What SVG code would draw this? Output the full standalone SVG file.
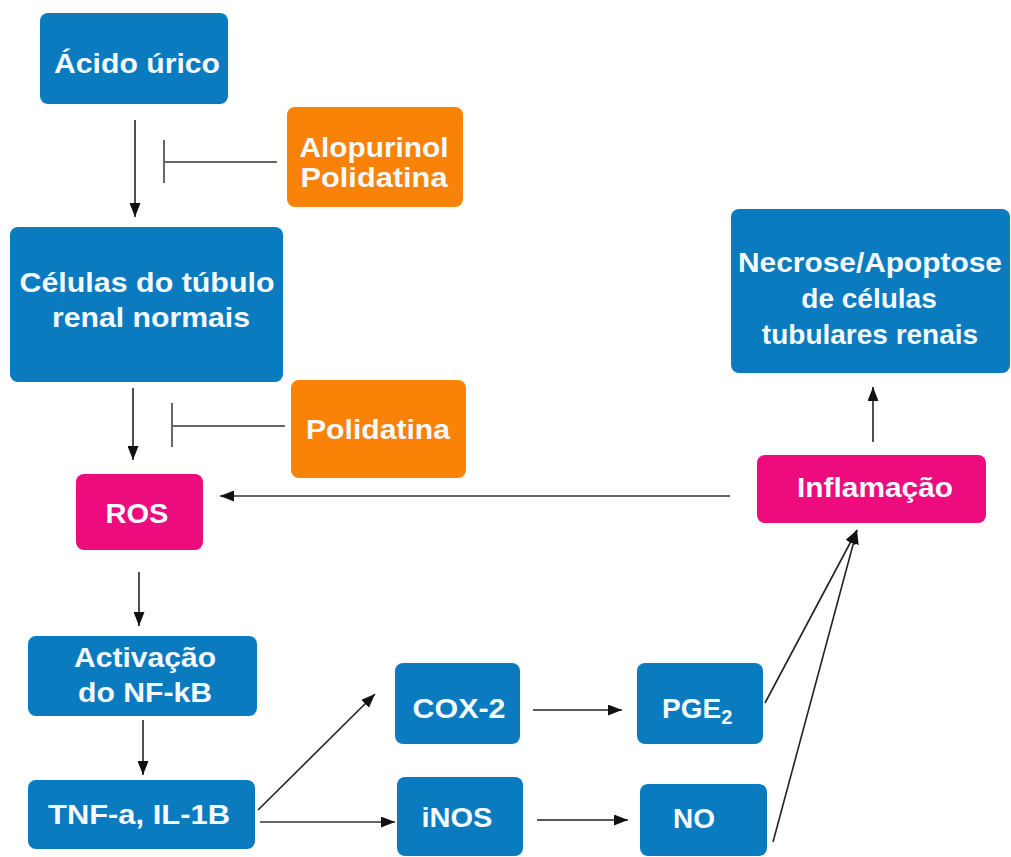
<svg xmlns="http://www.w3.org/2000/svg" width="1011" height="857" viewBox="0 0 1011 857">
<defs>
<style>
.blue{fill:#0B7BBF}
.orange{fill:#FA8206}
.pink{fill:#EC0C7E}
.t{font-family:"Liberation Sans",Arial,sans-serif;font-weight:bold;font-size:28px;fill:#F4FAFF;text-anchor:middle}
.c{stroke:#222;stroke-width:1.6;fill:none}
.g{stroke:#666;stroke-width:2;fill:none}
</style>
<marker id="ah" markerUnits="userSpaceOnUse" markerWidth="15" markerHeight="11" refX="14" refY="5.5" orient="auto">
<path d="M0,0 L14,5.5 L0,11 Z" fill="#111"/>
</marker>
</defs>
<rect width="1011" height="857" fill="#fff"/>

<g id="connectors">
<line class="c" x1="135" y1="120" x2="135" y2="217" marker-end="url(#ah)"/>
<line class="g" x1="164" y1="140" x2="164" y2="183"/>
<line class="g" x1="164" y1="162" x2="277" y2="162"/>
<line class="c" x1="133" y1="388" x2="133" y2="460" marker-end="url(#ah)"/>
<line class="g" x1="172" y1="403" x2="172" y2="447"/>
<line class="g" x1="172" y1="426" x2="285" y2="426"/>
<line class="g" x1="730" y1="496" x2="220" y2="496" marker-end="url(#ah)"/>
<line class="c" x1="139" y1="572" x2="139" y2="626" marker-end="url(#ah)"/>
<line class="c" x1="143" y1="720" x2="143" y2="775" marker-end="url(#ah)"/>
<line class="c" x1="258" y1="810" x2="375" y2="694" marker-end="url(#ah)"/>
<line class="g" x1="260" y1="822" x2="395" y2="822" marker-end="url(#ah)"/>
<line class="c" x1="533" y1="710" x2="622" y2="710" marker-end="url(#ah)"/>
<line class="c" x1="537" y1="820" x2="628" y2="820" marker-end="url(#ah)"/>
<line class="c" x1="765" y1="703" x2="857" y2="530" marker-end="url(#ah)"/>
<line class="c" x1="773" y1="842" x2="857" y2="530" marker-end="url(#ah)"/>
<line class="c" x1="873" y1="442" x2="873" y2="387" marker-end="url(#ah)"/>
</g>

<g id="acido">
<rect class="blue" x="40" y="13" width="188" height="91" rx="8"/>
<text class="t" x="137" y="73" textLength="166" lengthAdjust="spacingAndGlyphs">Ácido úrico</text>
</g>
<g id="alopurinol">
<rect class="orange" x="287" y="107" width="176" height="100" rx="8"/>
<text class="t" x="374" y="157" textLength="149" lengthAdjust="spacingAndGlyphs">Alopurinol</text>
<text class="t" x="374" y="187" textLength="147" lengthAdjust="spacingAndGlyphs">Polidatina</text>
</g>
<g id="celulas">
<rect class="blue" x="10" y="227" width="273" height="155" rx="8"/>
<text class="t" x="147" y="292" textLength="255" lengthAdjust="spacingAndGlyphs">Células do túbulo</text>
<text class="t" x="151" y="327" textLength="198" lengthAdjust="spacingAndGlyphs">renal normais</text>
</g>
<g id="polidatina">
<rect class="orange" x="291" y="380" width="175" height="98" rx="8"/>
<text class="t" x="378" y="439" textLength="144" lengthAdjust="spacingAndGlyphs">Polidatina</text>
</g>
<g id="ros">
<rect class="pink" x="76" y="474" width="127" height="76" rx="8"/>
<text class="t" x="137" y="523" textLength="63" lengthAdjust="spacingAndGlyphs">ROS</text>
</g>
<g id="necrose">
<rect class="blue" x="731" y="209" width="279" height="164" rx="8"/>
<text class="t" x="870" y="272" textLength="264" lengthAdjust="spacingAndGlyphs">Necrose/Apoptose</text>
<text class="t" x="869" y="308">de células</text>
<text class="t" x="870" y="344">tubulares renais</text>
</g>
<g id="inflamacao">
<rect class="pink" x="757" y="455" width="229" height="68" rx="8"/>
<text class="t" x="875" y="497" textLength="156" lengthAdjust="spacingAndGlyphs">Inflamação</text>
</g>
<g id="activacao">
<rect class="blue" x="28" y="636" width="229" height="80" rx="8"/>
<text class="t" x="145" y="667" textLength="142" lengthAdjust="spacingAndGlyphs">Activação</text>
<text class="t" x="145" y="702" textLength="134" lengthAdjust="spacingAndGlyphs">do NF-kB</text>
</g>
<g id="tnf">
<rect class="blue" x="28" y="780" width="227" height="69" rx="8"/>
<text class="t" x="139" y="824" textLength="182" lengthAdjust="spacingAndGlyphs">TNF-a, IL-1B</text>
</g>
<g id="cox2">
<rect class="blue" x="395" y="663" width="125" height="81" rx="8"/>
<text class="t" x="459" y="718" textLength="93" lengthAdjust="spacingAndGlyphs">COX-2</text>
</g>
<g id="pge2">
<rect class="blue" x="637" y="663" width="126" height="81" rx="8"/>
<text class="t" x="662" y="718" style="text-anchor:start">PGE<tspan font-size="20" dy="6">2</tspan></text>
</g>
<g id="inos">
<rect class="blue" x="397" y="777" width="126" height="79" rx="8"/>
<text class="t" x="457" y="827" textLength="71" lengthAdjust="spacingAndGlyphs">iNOS</text>
</g>
<g id="no">
<rect class="blue" x="640" y="784" width="127" height="72" rx="8"/>
<text class="t" x="694" y="828">NO</text>
</g>
</svg>
